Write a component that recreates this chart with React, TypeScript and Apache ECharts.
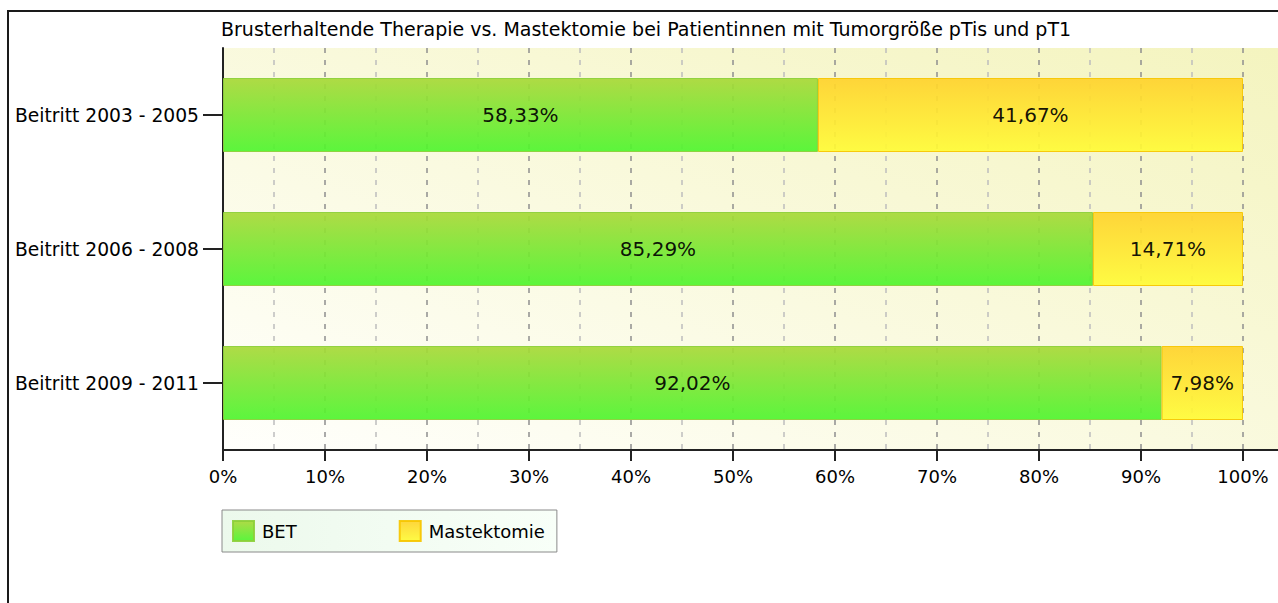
import React, { useEffect, useRef } from "react";
import * as echarts from "echarts";

const categories = ["Beitritt 2003 - 2005", "Beitritt 2006 - 2008", "Beitritt 2009 - 2011"];
const betValues = [58.33, 85.29, 92.02];
const mastValues = [41.67, 14.71, 7.98];
const seriesNames = ["BET", "Mastektomie"];
const titleText = "Brusterhaltende Therapie vs. Mastektomie bei Patientinnen mit Tumorgröße pTis und pT1";

const FONT = "'DejaVu Sans', Tahoma, sans-serif";

const fmt = (v: number) => v.toFixed(2).replace(".", ",") + "%";

export default function App() {
  const ref = useRef<HTMLDivElement>(null);
  useEffect(() => {
    if (!ref.current) return;
    const chart = echarts.init(ref.current, null, { renderer: "svg" });
    const greenGrad = new echarts.graphic.LinearGradient(0, 0, 0, 1, [
      { offset: 0, color: "#a8d838" },
      { offset: 1, color: "#4ef52e" },
    ]);
    const yellowGrad = new echarts.graphic.LinearGradient(0, 0, 0, 1, [
      { offset: 0, color: "#ffd22c" },
      { offset: 1, color: "#fffb36" },
    ]);
    const labelCfg = {
      show: true,
      position: "inside",
      color: "#000",
      fontFamily: FONT,
      fontSize: 20,
      formatter: (p: any) => fmt(p.value),
    };
    chart.setOption({
      animation: false,
      title: {
        text: titleText,
        left: 221,
        top: 19,
        padding: 0,
        textStyle: { fontFamily: FONT, fontSize: 19, fontWeight: "normal", color: "#000" },
      },
      legend: {
        data: seriesNames,
        left: 222,
        top: 510,
        orient: "horizontal",
        padding: [10, 12, 10, 10],
        itemWidth: 21,
        itemHeight: 20,
        itemGap: 102,
        icon: "rect",
        borderColor: "#8a8a8a",
        borderWidth: 1,
        backgroundColor: new echarts.graphic.LinearGradient(0, 0, 1, 0, [
          { offset: 0, color: "#ecf9ec" },
          { offset: 1, color: "#f8fff8" },
        ]),
        textStyle: { fontFamily: FONT, fontSize: 18, color: "#000", padding: [0, 0, 0, 3] },
      },
      grid: { left: 223, top: 48, width: 1020, height: 402, containLabel: false },
      xAxis: {
        type: "value",
        min: 0,
        max: 100,
        interval: 10,
        axisLine: { show: true, lineStyle: { color: "#222", width: 2 } },
        axisTick: { show: true, length: 11, lineStyle: { color: "#222", width: 2 } },
        axisLabel: {
          formatter: "{value}%",
          margin: 17,
          fontFamily: FONT,
          fontSize: 18,
          color: "#000",
        },
        splitLine: { show: true, lineStyle: { color: "#8f8f8f", type: [5, 7], width: 1.5 } },
        minorTick: { show: false, splitNumber: 2 },
        minorSplitLine: { show: true, lineStyle: { color: "#bdbdbd", type: [5, 7], width: 1.5 } },
      },
      yAxis: {
        type: "category",
        data: categories,
        inverse: true,
        axisLine: { show: true, lineStyle: { color: "#222", width: 2 } },
        axisTick: { show: true, alignWithLabel: true, length: 20, lineStyle: { color: "#222", width: 2 } },
        axisLabel: { margin: 24, fontFamily: FONT, fontSize: 18.7, color: "#000" },
        splitLine: { show: false },
      },
      graphic: [
        {
          type: "rect",
          z: -10,
          silent: true,
          shape: { x: 223, y: 48, width: 1055, height: 402 },
          style: {
            fill: new echarts.graphic.LinearGradient(0, 1, 1, 0, [
              { offset: 0, color: "#fffffc" },
              { offset: 1, color: "#f4f4bf" },
            ]),
          },
        },
        {
          type: "line",
          silent: true,
          shape: { x1: 1243, y1: 450, x2: 1278, y2: 450 },
          style: { stroke: "#222", lineWidth: 2 },
        },
        {
          type: "polyline",
          silent: true,
          shape: { points: [[8, 603], [8, 11], [1278, 11]] },
          style: { stroke: "#1a1a1a", lineWidth: 2, fill: "none" },
        },
      ],
      series: [
        {
          name: seriesNames[0],
          type: "bar",
          stack: "total",
          barWidth: 74,
          data: betValues,
          itemStyle: { color: greenGrad, borderColor: "#8ccf3a", borderWidth: 1, opacity: 0.92 },
          label: labelCfg,
        },
        {
          name: seriesNames[1],
          type: "bar",
          stack: "total",
          barWidth: 74,
          data: mastValues,
          itemStyle: { color: yellowGrad, borderColor: "#f6c600", borderWidth: 1, opacity: 0.92 },
          label: labelCfg,
        },
      ],
    });
    return () => chart.dispose();
  }, []);
  return (
    <div
      ref={ref}
      style={{ position: "fixed", left: 0, top: 0, width: 1278, height: 603, background: "#fff" }}
    />
  );
}
